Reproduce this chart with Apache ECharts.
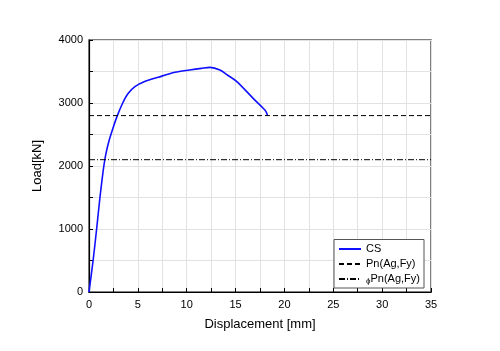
<!DOCTYPE html>
<html>
<head>
<meta charset="utf-8">
<script src="https://cdn.jsdelivr.net/npm/echarts@6/dist/echarts.min.js"></script>
<style>
  html, body { margin: 0; padding: 0; background: #fff; }
  #main { width: 500px; height: 351px; }
</style>
</head>
<body>
<div id="main"></div>
<script>
// load-displacement curve
const csDisp = [0, 0.42, 0.78, 1.12, 1.35, 1.52, 1.74, 2.05, 2.45, 2.9, 3.45, 4.0, 4.7, 5.7, 7.1, 8.8, 10.3, 11.5, 12.4, 13.4, 14.2, 15.1, 16.8, 18.0, 18.2, 18.25];
const csLoad = [0, 500, 1000, 1500, 1800, 2000, 2200, 2400, 2600, 2800, 3000, 3150, 3260, 3340, 3410, 3487, 3524, 3550, 3566, 3524, 3440, 3343, 3074, 2889, 2836, 2800];
const pnLoad = 2800;
const phiPnLoad = 2100;
const xRange = [0, 35];

let chart = echarts.init(document.getElementById('main'));
const font = 'Liberation Sans, Arial, sans-serif';

chart.setOption({
    animation: false,
    textStyle: { fontFamily: font },
    grid: {
        left: 89, right: 69, top: 40, bottom: 59,
        show: true, borderColor: '#555', borderWidth: 1.5
    },
    legend: {
        orient: 'vertical',
        right: 76, bottom: 63,
        itemWidth: 22, itemHeight: 10, itemGap: 4,
        itemStyle: { opacity: 0 },
        padding: [4, 4, 3, 4],
        borderColor: '#555', borderWidth: 1,
        backgroundColor: '#fff',
        textStyle: { fontSize: 11, color: '#000',
            rich: { phi: { fontSize: 8, color: '#000', padding: [4, 0, 0, 0] } } },
        data: ['CS', 'Pn(Ag,Fy)', 'phi'],
        formatter: name => name === 'phi' ? '{phi|ϕ}Pn(Ag,Fy)' : name
    },
    xAxis: {
        type: 'value', min: 0, max: 35, interval: 2.5,
        name: 'Displacement [mm]', nameLocation: 'middle', nameGap: 26,
        nameTextStyle: { fontSize: 13, color: '#000' },
        axisLine: { lineStyle: { color: '#000', width: 1.2 } },
        axisTick: { inside: true, length: 4, lineStyle: { color: '#000' } },
        axisLabel: { fontSize: 11, color: '#000', margin: 7,
            formatter: v => v % 5 === 0 ? String(v) : '' },
        splitLine: { show: true, lineStyle: { color: '#e2e2e2' } }
    },
    yAxis: {
        type: 'value', min: 0, max: 4000, interval: 500,
        name: 'Load[kN]', nameLocation: 'middle', nameGap: 45,
        nameTextStyle: { fontSize: 13, color: '#000' },
        axisLine: { show: true, lineStyle: { color: '#000', width: 1.2 } },
        axisTick: { show: true, inside: true, length: 4, lineStyle: { color: '#000' } },
        axisLabel: { fontSize: 11, color: '#000', margin: 6,
            formatter: v => v % 1000 === 0 ? String(v) : '' },
        splitLine: { show: true, lineStyle: { color: '#e2e2e2' } }
    },
    series: [
        {
            name: 'CS', type: 'line', symbol: 'none', smooth: 0.3,
            lineStyle: { color: '#1010ff', width: 1.6 },
            itemStyle: { color: '#1010ff' },
            data: csDisp.map((d, i) => [d, csLoad[i]])
        },
        {
            name: 'Pn(Ag,Fy)', type: 'line', symbol: 'none',
            lineStyle: { color: '#000', width: 1, type: [5, 3] },
            itemStyle: { color: '#000' },
            data: xRange.map(d => [d, pnLoad])
        },
        {
            name: 'phi', type: 'line', symbol: 'none',
            lineStyle: { color: '#000', width: 1, type: [6, 2, 1, 2] },
            itemStyle: { color: '#000' },
            data: xRange.map(d => [d, phiPnLoad])
        }
    ]
});
</script>
</body>
</html>
